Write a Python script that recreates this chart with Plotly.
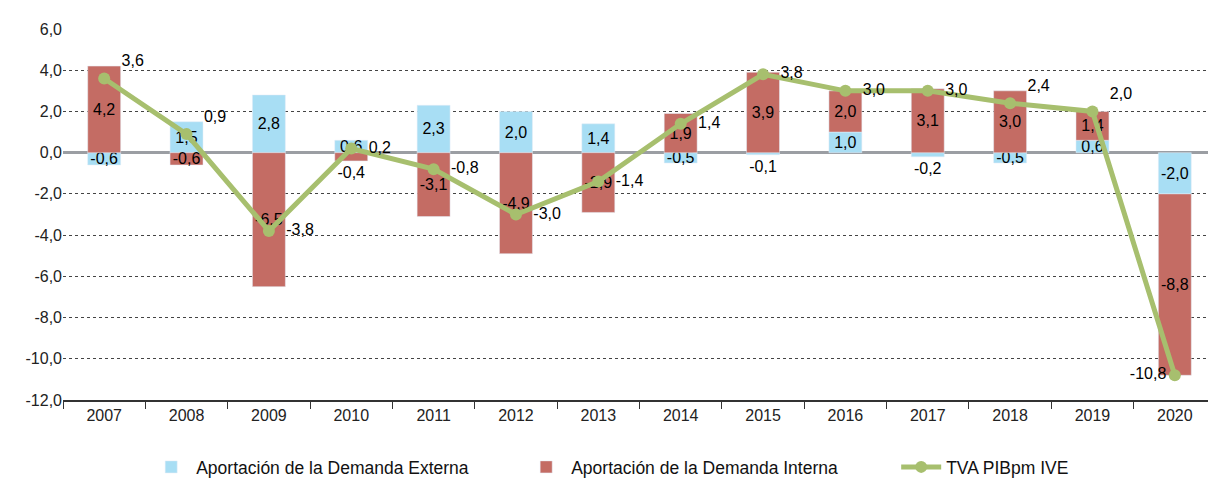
import plotly.graph_objects as go

years = ["2007", "2008", "2009", "2010", "2011", "2012", "2013", "2014",
         "2015", "2016", "2017", "2018", "2019", "2020"]
externa = [-0.6, 1.5, 2.8, 0.6, 2.3, 2.0, 1.4, -0.5, -0.1, 1.0, -0.2, -0.5, 0.6, -2.0]
interna = [4.2, -0.6, -6.5, -0.4, -3.1, -4.9, -2.9, 1.9, 3.9, 2.0, 3.1, 3.0, 1.4, -8.8]
pib = [3.6, 0.9, -3.8, 0.2, -0.8, -3.0, -1.4, 1.4, 3.8, 3.0, 3.0, 2.4, 2.0, -10.8]
yticks = [6, 4, 2, 0, -2, -4, -6, -8, -10, -12]

def fmt(v):
    return f"{v:.1f}".replace(".", ",")

ext_pos = ["inside"] * 8 + ["outside", "inside", "outside", "inside", "inside", "inside"]
int_pos = ["inside", "inside", "inside", "outside"] + ["inside"] * 10
line_pos = ["top right", "top right", "middle right", "middle right", "middle right",
            "middle right", "middle right", "middle right", "middle right", "middle right",
            "middle right", "top right", "top right", "middle left"]
line_txt = [("  " + fmt(v)) if p.endswith("right") else fmt(v)
            for v, p in zip(pib, line_pos)]

FONT = "Liberation Sans, Arial, sans-serif"

fig = go.Figure()
fig.add_trace(go.Bar(
    x=years, y=externa, name="Aportación de la Demanda Externa",
    marker=dict(color="#A8DEF4"),
    text=[fmt(v) for v in externa], textposition=ext_pos, textangle=0,
    insidetextanchor="middle", textfont=dict(color="black", size=16, family=FONT),
    constraintext="none", cliponaxis=False,
))
fig.add_trace(go.Bar(
    x=years, y=interna, name="Aportación de la Demanda Interna",
    marker=dict(color="#C46C64"),
    text=[fmt(v) for v in interna], textposition=int_pos, textangle=0,
    insidetextanchor="middle", textfont=dict(color="black", size=16, family=FONT),
    constraintext="none", cliponaxis=False,
))
fig.add_trace(go.Scatter(
    x=years, y=pib, name="TVA PIBpm IVE", mode="lines+markers+text",
    line=dict(color="#A7BF6E", width=5),
    marker=dict(color="#A7BF6E", size=12),
    text=line_txt, textposition=line_pos,
    textfont=dict(color="black", size=16, family=FONT),
    cliponaxis=False,
))

fig.update_layout(
    barmode="relative", bargap=0.6,
    width=1208, height=477,
    margin=dict(l=55, r=0, t=21, b=85, autoexpand=False),
    paper_bgcolor="white", plot_bgcolor="white",
    font=dict(family=FONT, size=16, color="#222"),
    uniformtext=dict(minsize=16, mode="show"),
    showlegend=True,
    legend=dict(orientation="h", x=0.56, xanchor="center", yref="container",
                y=0.0, yanchor="bottom",
                font=dict(size=17.5, color="#111"), traceorder="normal", itemwidth=40,
                entrywidthmode="pixels", entrywidth=320),
)
fig.update_yaxes(range=[-12, 6], tickvals=yticks, ticktext=[fmt(v) for v in yticks],
                 showgrid=True, gridcolor="#444", griddash="dot", gridwidth=1,
                 zeroline=True, zerolinecolor="#9B9EA3", zerolinewidth=3,
                 showline=False, ticks="", tickfont=dict(size=16, color="#222"),
                 automargin=False)
fig.update_xaxes(type="category", range=[-0.5, 13.5], showline=True, linecolor="#333",
                 linewidth=1.5, ticks="outside", tickson="boundaries", ticklen=7,
                 tickcolor="#333", showgrid=False, tickfont=dict(size=16, color="#222"),
                 automargin=False)

fig.write_html("out.html")
